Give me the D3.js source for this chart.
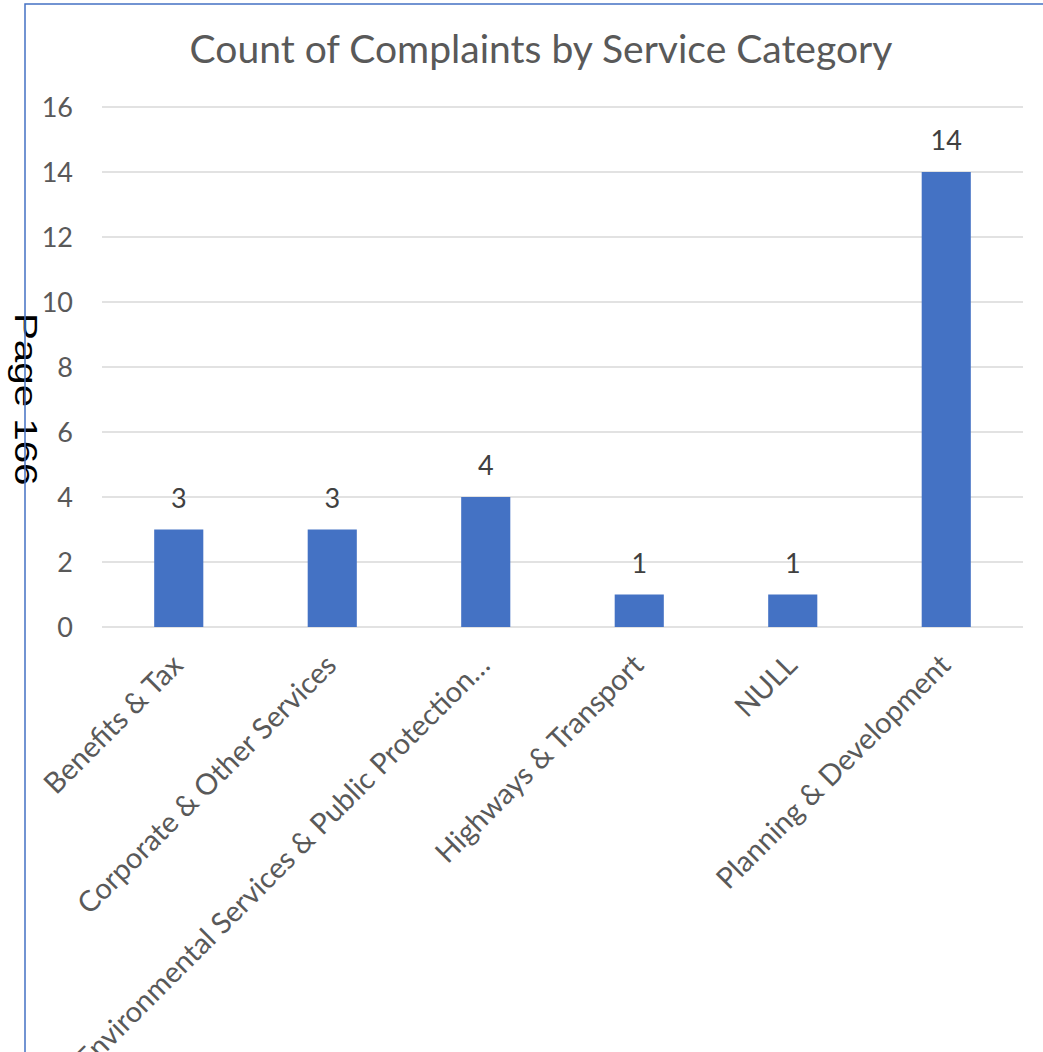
<!DOCTYPE html>
<html>
<head>
<meta charset="utf-8">
<script src="https://cdn.jsdelivr.net/npm/d3@7"></script>
<style>
    body { margin: 0; background: #ffffff; }
    svg { display: block; }
</style>
</head>
<body>
<div id="chart"></div>
<script>
// data
const categories = [
    "Benefits & Tax",
    "Corporate & Other Services",
    "Environmental Services & Public Protection\u2026",
    "Highways & Transport",
    "NULL",
    "Planning & Development"
];
const counts = [3, 3, 4, 1, 1, 14];
const yTicks = [0, 2, 4, 6, 8, 10, 12, 14, 16];
const chartTitle = "Count of Complaints by Service Category";
const pageLabel = "Page 166";

function drawChart() {
    const W = 1043, H = 1052;
    const textColor = "#595959";
    const barColor = "#4472C4";
    const gridColor = "#d9d9d9";
    const font = "Lato, 'Open Sans', sans-serif";

    // plot area
    const plot = {left: 102, right: 1023, top: 107, bottom: 627};

    const svg = d3.select("#chart")
        .append("svg")
        .attr("width", W)
        .attr("height", H);

    svg.append("rect")
        .attr("width", W)
        .attr("height", H)
        .attr("fill", "#ffffff");

    const x = d3.scaleBand()
        .domain(categories)
        .range([plot.left, plot.right])
        .paddingInner(0.68)
        .paddingOuter(0.34);

    const y = d3.scaleLinear()
        .domain([0, 16])
        .range([plot.bottom, plot.top]);

    // gridlines
    svg.append("g")
        .selectAll("line")
        .data(yTicks)
        .join("line")
        .attr("x1", plot.left)
        .attr("x2", plot.right)
        .attr("y1", d => y(d))
        .attr("y2", d => y(d))
        .attr("stroke", gridColor)
        .attr("stroke-width", 1.5);

    // y tick labels
    svg.append("g")
        .selectAll("text")
        .data(yTicks)
        .join("text")
        .attr("x", 73)
        .attr("y", d => y(d))
        .attr("dy", "0.36em")
        .attr("text-anchor", "end")
        .attr("font-family", font)
        .attr("font-size", 27)
        .attr("fill", textColor)
        .text(d => d);

    // bars
    svg.append("g")
        .selectAll("rect")
        .data(counts)
        .join("rect")
        .attr("x", (d, i) => x(categories[i]))
        .attr("y", d => y(d))
        .attr("width", x.bandwidth())
        .attr("height", d => y(0) - y(d))
        .attr("fill", barColor);

    // value labels
    svg.append("g")
        .selectAll("text")
        .data(counts)
        .join("text")
        .attr("x", (d, i) => x(categories[i]) + x.bandwidth() / 2)
        .attr("y", d => y(d) - 22)
        .attr("text-anchor", "middle")
        .attr("font-family", font)
        .attr("font-size", 27)
        .attr("fill", "#404040")
        .text(d => d);

    // category labels, rotated (the long one runs off the page, as in the original)
    svg.append("g")
        .selectAll("text")
        .data(categories)
        .join("text")
        .attr("transform", d => `translate(${x(d) + x.bandwidth() / 2 + 6}, 667) rotate(-45)`)
        .attr("text-anchor", "end")
        .attr("font-family", font)
        .attr("font-size", 29)
        .attr("fill", textColor)
        .text(d => d);

    // title, sized to the width it takes in the picture
    const title = svg.append("text")
        .attr("x", 541)
        .attr("y", 63)
        .attr("text-anchor", "middle")
        .attr("font-family", font)
        .attr("font-size", 36)
        .attr("fill", textColor)
        .text(chartTitle);
    const tl = title.node().getComputedTextLength();
    if (tl > 0) title.attr("font-size", 36 * 703 / tl);

    // page stamp, stretched along its length
    svg.append("text")
        .attr("transform", "translate(15, 313) rotate(90) scale(1.3, 1)")
        .attr("font-family", "'Liberation Sans', Arial, sans-serif")
        .attr("font-size", 31)
        .attr("fill", "#000000")
        .text(pageLabel);

    // frame of the page
    svg.append("path")
        .attr("d", `M25,${H + 5}V4H${W + 5}`)
        .attr("fill", "none")
        .attr("stroke", "#4472C4")
        .attr("stroke-width", 1.5);
}
drawChart();
</script>
</body>
</html>
